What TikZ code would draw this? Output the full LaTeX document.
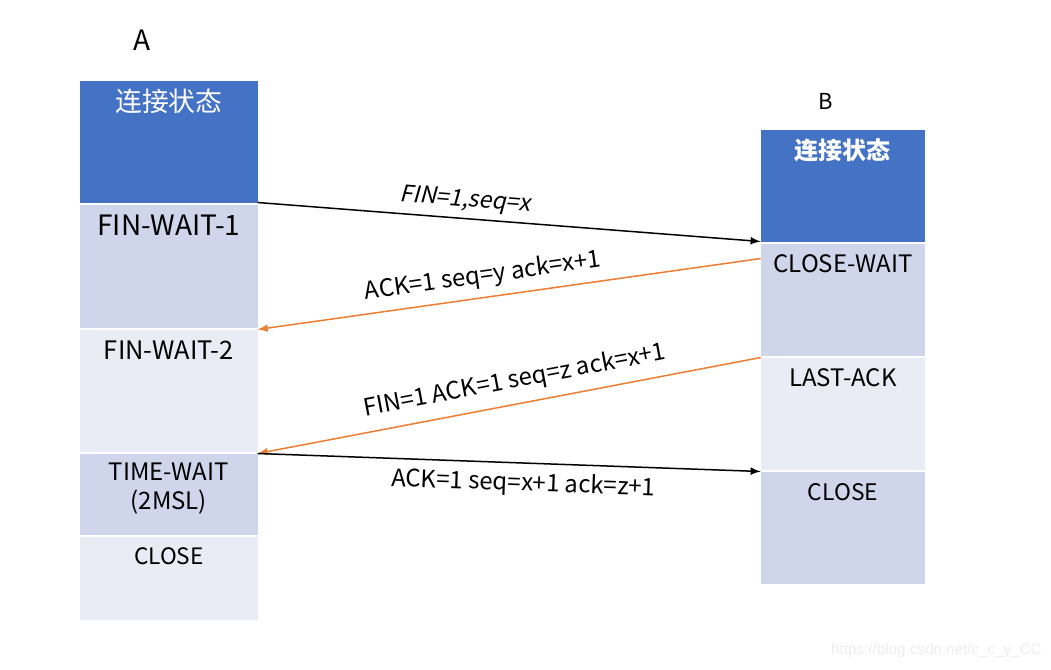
\documentclass[tikz,border=0pt]{standalone}
\usepackage{fontspec}
\setmainfont{Noto Sans CJK SC}
\newfontfamily\slantfont[FakeSlant=0.2]{Noto Sans CJK SC}
\newfontfamily\markfont{Liberation Sans}
\usetikzlibrary{positioning}
\definecolor{headblue}{HTML}{4472C4}
\definecolor{midblue}{HTML}{CFD5EA}
\definecolor{paleblue}{HTML}{E9EBF5}
\definecolor{msgorange}{HTML}{ED7D31}

\begin{document}
\begin{tikzpicture}[x=0.5pt, y=-0.5pt, node distance=1pt,
        box/.style={rectangle, inner sep=0pt, outer sep=0pt},
        abox/.style={box, minimum width=88.8pt},
        bbox/.style={box, minimum width=82.2pt},
        txt/.style={anchor=center, yshift=-10.25pt, inner sep=0pt, font=\fontsize{12}{14.5}\selectfont},
        msg/.style={line width=0.75pt, -latex},
        lbl/.style={sloped, inner sep=0pt, font=\fontsize{12}{14}\selectfont}]
        \useasboundingbox (0,0) rectangle (1051,670);
        \node[font=\fontsize{14}{16}\selectfont] (na) at (142,40) {A};
        \node[font=\fontsize{11}{13}\selectfont] (nb) at (826,101) {B};

        \node[abox, fill=headblue, minimum height=61pt, anchor=north west,
              label={[txt, text=white, font=\fontsize{13.4}{15}\selectfont]north:连接状态}] (a0) at (80,80.5) {};
        \node[abox, fill=midblue, minimum height=61.5pt, below=of a0,
              label={[txt, font=\fontsize{14}{16}\selectfont]north:FIN-WAIT-1}] (a1) {};
        \node[abox, fill=paleblue, minimum height=61pt, below=of a1,
              label={[txt, font=\fontsize{12.7}{15}\selectfont]north:FIN-WAIT-2}] (a2) {};
        \node[abox, fill=midblue, minimum height=40.5pt, below=of a2,
              label={[txt, yshift=-7.25pt, align=center]north:{TIME-WAIT\\(2MSL)}}] (a3) {};
        \node[abox, fill=paleblue, minimum height=41.5pt, below=of a3,
              label={[txt, yshift=0.5pt, font=\fontsize{11.3}{14}\selectfont]north:CLOSE}] (a4) {};

        \node[bbox, fill=headblue, minimum height=56pt, anchor=north west,
              label={[txt, text=white, font=\bfseries\fontsize{12}{14}\selectfont]north:连接状态}] (b0) at (760.7,129.5) {};
        \node[bbox, fill=midblue, minimum height=56pt, below=of b0,
              label={[txt]north:CLOSE-WAIT}] (b1) {};
        \node[bbox, fill=paleblue, minimum height=56pt, below=of b1,
              label={[txt]north:LAST-ACK}] (b2) {};
        \node[bbox, fill=midblue, minimum height=56pt, below=of b2,
              label={[txt, font=\fontsize{11.4}{14}\selectfont]north:CLOSE}] (b3) {};

        \coordinate (bsend) at ([yshift=-7.5pt]b1.north west);

        \draw[msg] (a0.south east) -- node[lbl, pos=0.41, above=3pt, font=\slantfont\fontsize{11.6}{13}\selectfont] {FIN=1,seq=x} (b0.south west);
        \draw[msg, msgorange, latex-] (a2.north east) -- node[lbl, pos=0.454, above=4pt, text=black] {ACK=1 seq=y ack=x+1} (bsend);
        \draw[msg, msgorange, latex-] (a3.north east) -- node[lbl, pos=0.52, above=5pt, text=black] {FIN=1 ACK=1 seq=z ack=x+1} (b2.north west);
        \draw[msg] (a3.north east) -- node[lbl, pos=0.53, below=4pt] {ACK=1 seq=x+1 ack=z+1} (b3.north west);

        \node[text=black!7, font=\markfont\fontsize{7.6}{9}\selectfont, anchor=east, inner sep=0pt] (wm) at (1042,651) {https://blog.csdn.net/c\_c\_y\_CC};
\end{tikzpicture}
\end{document}
